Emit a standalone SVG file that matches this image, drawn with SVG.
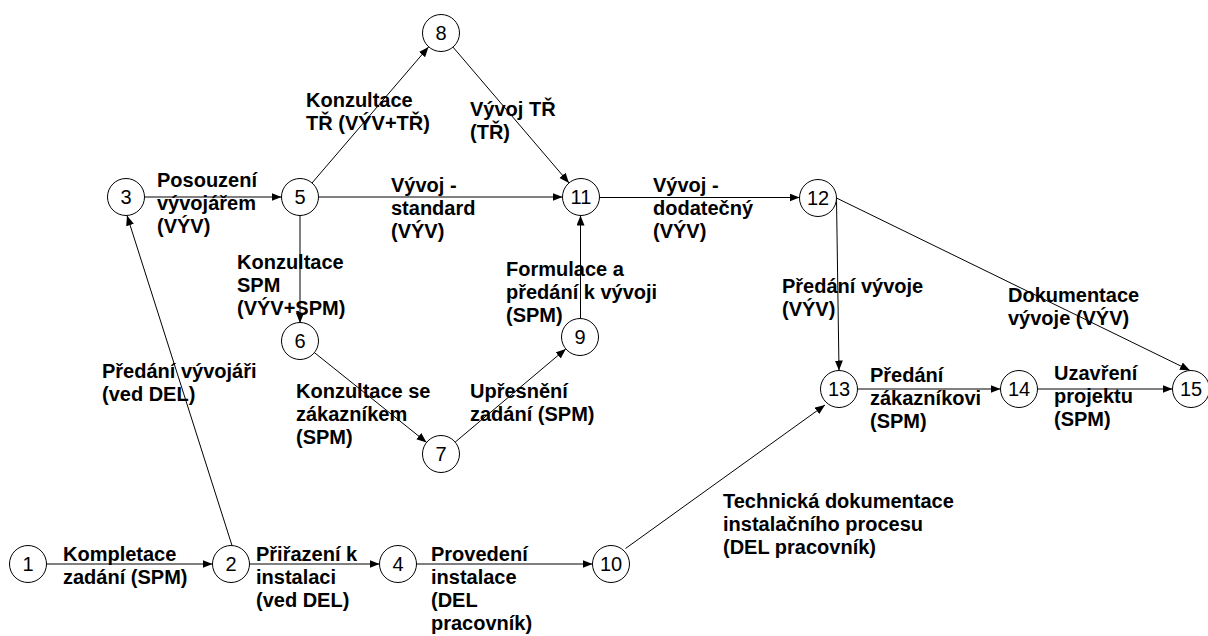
<svg xmlns="http://www.w3.org/2000/svg" width="1208" height="636" viewBox="0 0 1208 636">
  <defs>
    <marker id="arrow" markerUnits="userSpaceOnUse" markerWidth="11" markerHeight="9" refX="10" refY="4" orient="auto">
      <path d="M0,0 L10,4 L0,8 z" fill="#000"/>
    </marker>
    <style>
      .edge { stroke: #000; stroke-width: 1; fill: none; marker-end: url(#arrow); }
      .node circle { fill: #fff; stroke: #000; stroke-width: 1; }
      .node text { font-family: "Liberation Sans", Arial, sans-serif; font-size: 20px; text-anchor: middle; fill: #000; }
      .lbl { font-family: "Liberation Sans", Arial, sans-serif; font-size: 20px; font-weight: bold; fill: #000; }
    </style>
  </defs>
  <rect width="1208" height="636" fill="#fff"/>

  <!-- activity arrows -->
  <g id="connectors">
    <line class="edge" x1="46.5" y1="564" x2="212.5" y2="564"/>
    <line class="edge" x1="249.5" y1="564" x2="379.5" y2="564"/>
    <line class="edge" x1="416.5" y1="564" x2="592.5" y2="564"/>
    <line class="edge" x1="232" y1="545.5" x2="127" y2="215.5"/>
    <line class="edge" x1="144.5" y1="197" x2="281.5" y2="197"/>
    <line class="edge" x1="312" y1="183" x2="428.5" y2="47"/>
    <line class="edge" x1="318.5" y1="197" x2="562.5" y2="197"/>
    <line class="edge" x1="300" y1="215.5" x2="300" y2="323"/>
    <line class="edge" x1="314.4" y1="352.6" x2="426.6" y2="442.4"/>
    <line class="edge" x1="455.2" y1="442.1" x2="565.8" y2="348.9"/>
    <line class="edge" x1="580.5" y1="318.5" x2="580.5" y2="215.5"/>
    <line class="edge" x1="453" y1="47.1" x2="569" y2="182.9"/>
    <line class="edge" x1="599.5" y1="197.5" x2="799.5" y2="197.5"/>
    <line class="edge" x1="836.5" y1="199" x2="839" y2="370.5"/>
    <line class="edge" x1="836.5" y1="198" x2="1190" y2="370.5"/>
    <line class="edge" x1="857.5" y1="389" x2="1000.5" y2="389"/>
    <line class="edge" x1="1037.5" y1="389" x2="1172.5" y2="389"/>
    <line class="edge" x1="625.5" y1="548.5" x2="825" y2="405"/>
  </g>

  <!-- activity labels -->
  <g id="labels">
    <text class="lbl" x="63" y="561">Kompletace<tspan x="63" dy="23">zadání (SPM)</tspan></text>
    <text class="lbl" x="256" y="561">Přiřazení k<tspan x="256" dy="23">instalaci</tspan><tspan x="256" dy="23">(ved DEL)</tspan></text>
    <text class="lbl" x="431" y="561">Provedení<tspan x="431" dy="23">instalace</tspan><tspan x="431" dy="23">(DEL</tspan><tspan x="431" dy="23">pracovník)</tspan></text>
    <text class="lbl" x="102" y="378">Předání vývojáři<tspan x="102" dy="23">(ved DEL)</tspan></text>
    <text class="lbl" x="157" y="187">Posouzení<tspan x="157" dy="23">vývojářem</tspan><tspan x="157" dy="23">(VÝV)</tspan></text>
    <text class="lbl" x="306" y="107">Konzultace<tspan x="306" dy="23">TŘ (VÝV+TŘ)</tspan></text>
    <text class="lbl" x="237" y="269">Konzultace<tspan x="237" dy="23">SPM</tspan><tspan x="237" dy="23">(VÝV+SPM)</tspan></text>
    <text class="lbl" x="391" y="192">Vývoj -<tspan x="391" dy="23">standard</tspan><tspan x="391" dy="23">(VÝV)</tspan></text>
    <text class="lbl" x="470" y="116">Vývoj TŘ<tspan x="470" dy="23">(TŘ)</tspan></text>
    <text class="lbl" x="296" y="398">Konzultace se<tspan x="296" dy="23">zákazníkem</tspan><tspan x="296" dy="23">(SPM)</tspan></text>
    <text class="lbl" x="470" y="398">Upřesnění<tspan x="470" dy="23">zadání (SPM)</tspan></text>
    <text class="lbl" x="506" y="276">Formulace a<tspan x="506" dy="23">předání k vývoji</tspan><tspan x="506" dy="23">(SPM)</tspan></text>
    <text class="lbl" x="653" y="192">Vývoj -<tspan x="653" dy="23">dodatečný</tspan><tspan x="653" dy="23">(VÝV)</tspan></text>
    <text class="lbl" x="782" y="293">Předání vývoje<tspan x="782" dy="23">(VÝV)</tspan></text>
    <text class="lbl" x="1008" y="302">Dokumentace<tspan x="1008" dy="23">vývoje (VÝV)</tspan></text>
    <text class="lbl" x="870" y="382">Předání<tspan x="870" dy="23">zákazníkovi</tspan><tspan x="870" dy="23">(SPM)</tspan></text>
    <text class="lbl" x="1054" y="380">Uzavření<tspan x="1054" dy="23">projektu</tspan><tspan x="1054" dy="23">(SPM)</tspan></text>
    <text class="lbl" x="723" y="508">Technická dokumentace<tspan x="723" dy="23">instalačního procesu</tspan><tspan x="723" dy="23">(DEL pracovník)</tspan></text>
  </g>

  <!-- events -->
  <g id="n1" class="node"><circle cx="28" cy="564" r="18.5"/><text x="28" y="571">1</text></g>
  <g id="n2" class="node"><circle cx="231" cy="564" r="18.5"/><text x="231" y="571">2</text></g>
  <g id="n3" class="node"><circle cx="126" cy="197" r="18.5"/><text x="126" y="204">3</text></g>
  <g id="n4" class="node"><circle cx="398" cy="564" r="18.5"/><text x="398" y="571">4</text></g>
  <g id="n5" class="node"><circle cx="300" cy="197" r="18.5"/><text x="300" y="204">5</text></g>
  <g id="n6" class="node"><circle cx="300" cy="341" r="18.5"/><text x="300" y="348">6</text></g>
  <g id="n7" class="node"><circle cx="441" cy="454" r="18.5"/><text x="441" y="461">7</text></g>
  <g id="n8" class="node"><circle cx="441" cy="33" r="18.5"/><text x="441" y="40">8</text></g>
  <g id="n9" class="node"><circle cx="580" cy="337" r="18.5"/><text x="580" y="344">9</text></g>
  <g id="n10" class="node"><circle cx="611" cy="564" r="18.5"/><text x="611" y="571">10</text></g>
  <g id="n11" class="node"><circle cx="581" cy="197" r="18.5"/><text x="581" y="204">11</text></g>
  <g id="n12" class="node"><circle cx="818" cy="198" r="18.5"/><text x="818" y="205">12</text></g>
  <g id="n13" class="node"><circle cx="839" cy="389" r="18.5"/><text x="839" y="396">13</text></g>
  <g id="n14" class="node"><circle cx="1019" cy="389" r="18.5"/><text x="1019" y="396">14</text></g>
  <g id="n15" class="node"><circle cx="1191" cy="389" r="18.5"/><text x="1191" y="396">15</text></g>
</svg>
